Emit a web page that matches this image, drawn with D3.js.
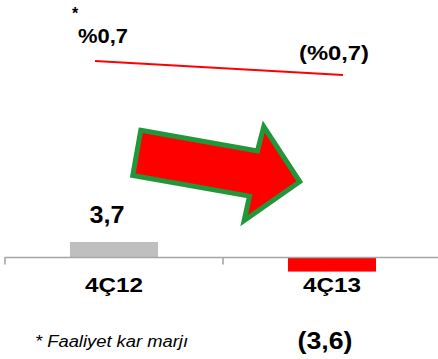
<!DOCTYPE html>
<html>
<head>
<meta charset="utf-8">
<script src="https://cdn.jsdelivr.net/npm/d3@7"></script>
<style>
  html, body { margin: 0; padding: 0; background: #fff; }
  svg { display: block; }
  text { font-family: "Liberation Sans", Arial, sans-serif; fill: #000; }
</style>
</head>
<body>
<svg id="chart" width="438" height="359"></svg>
<script>
// Quarters and their operating profit / operating margin
const categories = ["4Ç12", "4Ç13"];
const operatingProfit = [3.7, -3.6];
const operatingMargin = [0.7, -0.7];
const footnote = "* Faaliyet kar marjı";

const W = 438, H = 359;
const svg = d3.select("#chart");

// Turkish style numbers: comma decimal, negatives in parentheses
const loc = d3.formatLocale({ decimal: ",", thousands: ".", grouping: [3], currency: ["", " TL"] });
const f1 = loc.format(".1f");
const fmtVal = v => v < 0 ? "(" + f1(-v) + ")" : f1(v);
const fmtPct = v => v < 0 ? "(%" + f1(-v) + ")" : "%" + f1(v);

// Scales
const x = d3.scaleBand().domain(categories).range([5, 441]).paddingInner(0).paddingOuter(0);
const axisY = 257;
const yBar = d3.scaleLinear().domain([-10, 10]).range([axisY + 40.5, axisY - 40.5]);
const xLine = d3.scalePoint().domain(categories).range([95, 343]);
const yLine = d3.scaleLinear().domain([-1, 1]).range([78, 58]);

// Bars
const barW = x.bandwidth() * 0.404;
const barColors = ["#bfbfbf", "#ff0000"];
svg.append("g").selectAll("rect")
  .data(operatingProfit)
  .join("rect")
  .attr("x", (d, i) => x(categories[i]) + x.bandwidth() / 2 - barW / 2)
  .attr("y", d => Math.min(yBar(d), yBar(0)))
  .attr("width", barW)
  .attr("height", d => Math.abs(yBar(d) - yBar(0)))
  .attr("fill", (d, i) => barColors[i]);

// Category axis with boundary ticks
const axis = svg.append("g").attr("stroke", "#a6a6a6").attr("stroke-width", 1.6);
const [r0, r1] = x.range();
axis.append("line").attr("x1", r0).attr("x2", r1).attr("y1", axisY + 0.5).attr("y2", axisY + 0.5);
const bounds = categories.map(c => x(c)).concat([r1]);
axis.selectAll("line.tick").data(bounds).join("line")
  .attr("class", "tick")
  .attr("x1", d => d).attr("x2", d => d)
  .attr("y1", axisY).attr("y2", axisY + 7.5);

// Category labels
svg.append("g").selectAll("text")
  .data(categories)
  .join("text")
  .attr("x", d => x(d) + x.bandwidth() / 2)
  .attr("y", 292)
  .attr("text-anchor", "middle")
  .attr("font-size", 21)
  .attr("font-weight", "bold")
  .attr("textLength", 58)
  .attr("lengthAdjust", "spacingAndGlyphs")
  .text(d => d);

// Bar value labels
svg.append("g").selectAll("text")
  .data(operatingProfit)
  .join("text")
  .attr("x", (d, i) => x(categories[i]) + x.bandwidth() / 2 - 7)
  .attr("y", d => d >= 0 ? yBar(d) - 19 : axisY + 92)
  .attr("text-anchor", "middle")
  .attr("font-size", d => d >= 0 ? 24 : 24)
  .attr("font-weight", "bold")
  .attr("textLength", d => d >= 0 ? 35 : 55)
  .attr("lengthAdjust", "spacingAndGlyphs")
  .text(fmtVal);

// Margin line
const line = d3.line()
  .x((d, i) => xLine(categories[i]))
  .y(d => yLine(d));
svg.append("path")
  .datum(operatingMargin)
  .attr("d", line)
  .attr("fill", "none")
  .attr("stroke", "#ff0000")
  .attr("stroke-width", 2);

// Margin labels
const marginDx = [8, -9];
const marginDy = [-18, -15];
const marginLen = [50, 70];
svg.append("g").selectAll("text")
  .data(operatingMargin)
  .join("text")
  .attr("x", (d, i) => xLine(categories[i]) + marginDx[i])
  .attr("y", (d, i) => yLine(d) + marginDy[i])
  .attr("text-anchor", "middle")
  .attr("font-size", 21)
  .attr("font-weight", "bold")
  .attr("textLength", (d, i) => marginLen[i])
  .attr("lengthAdjust", "spacingAndGlyphs")
  .text(fmtPct);

// Footnote marker above the first margin label
svg.append("text")
  .attr("x", 75).attr("y", 19)
  .attr("text-anchor", "middle")
  .attr("font-size", 16)
  .attr("font-weight", "bold")
  .text("*");

// Footnote
svg.append("text")
  .attr("x", 35).attr("y", 347)
  .attr("font-size", 16)
  .attr("font-style", "italic")
  .attr("textLength", 153)
  .attr("lengthAdjust", "spacingAndGlyphs")
  .text(footnote);

// Trend arrow (block arrow, tilted downward)
const shaftHalf = 23, headHalf = 48, headBase = 121, tip = 168;
const arrowPts = [
  [2.5, -shaftHalf], [headBase, -shaftHalf], [headBase + 2, -headHalf],
  [tip, 0],
  [headBase - 1, headHalf], [headBase, shaftHalf], [2.5, shaftHalf]
];
svg.append("path")
  .attr("d", d3.line()(arrowPts) + "Z")
  .attr("transform", "translate(134.3,152.5) rotate(10)")
  .attr("fill", "#ff0000")
  .attr("stroke", "#22973a")
  .attr("stroke-width", 5)
  .attr("stroke-linejoin", "miter");
</script>
</body>
</html>
